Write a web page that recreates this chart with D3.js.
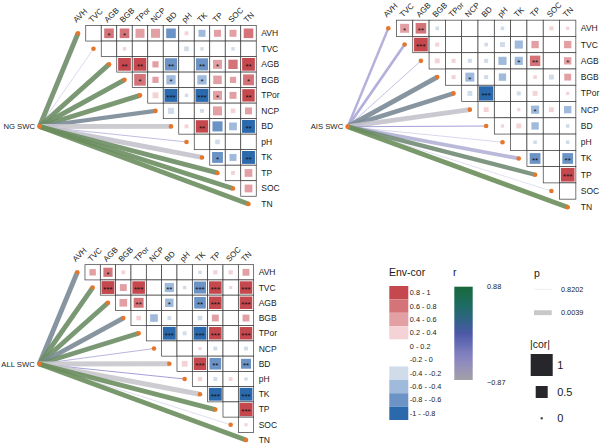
<!DOCTYPE html>
<html><head><meta charset="utf-8">
<script src="https://cdn.jsdelivr.net/npm/d3@7"></script>
<style>
body{margin:0;background:#fff}
svg{display:block}
text{font-family:"Liberation Sans",Arial,Helvetica,sans-serif;fill:#1a1a1a}
</style>
</head><body>
<svg id="c" width="600" height="444"></svg>
<script>
// ---------- data ----------
const vars = ["AVH","TVC","AGB","BGB","TPor","NCP","BD","pH","TK","TP","SOC","TN"];

// upper-triangle correlations: row i holds columns i+1..11
const ngCor = [
  [0.05, 0.62, 0.62, 0.58, 0.58, -0.62, 0.25, -0.45, 0.45, 0.45, 0.62],
  [0.1, 0.22, 0.05, 0.1, -0.1, -0.3, -0.22, 0.1, -0.22, 0.05],
  [0.82, 0.82, 0.4, -0.79, 0.05, -0.78, 0.58, 0.6, 0.82],
  [0.75, 0.4, -0.6, 0.05, -0.6, 0.55, 0.4, 0.7],
  [0.38, -0.84, -0.22, -0.84, 0.58, 0.45, 0.8],
  [-0.4, 0.05, -0.25, 0.58, 0.3, 0.45],
  [0.25, 0.8, -0.65, -0.5, -0.83],
  [0.05, -0.3, 0.05, 0.05],
  [-0.7, -0.45, -0.83],
  [0.25, 0.5],
  [0.5]
];
const ngSig = [
  [0,1,1,0,0,0,0,0,0,0,0],
  [0,0,0,0,0,0,0,0,0,0],
  [2,2,0,2,0,2,1,0,2],
  [1,0,1,0,1,0,0,1],
  [0,3,0,3,1,0,2],
  [0,0,0,0,0,0],
  [0,2,0,0,2],
  [0,0,0,0],
  [1,0,2],
  [0,0],
  [0]
];
const aisCor = [
  [0.55, 0.65, -0.22, 0.05, 0.05, 0.05, -0.22, 0.05, 0.05, 0.25, 0.2],
  [0.84, 0.25, 0.05, 0.05, -0.22, -0.3, -0.5, 0.45, 0.05, 0.45],
  [0.3, 0.25, -0.25, -0.25, -0.5, -0.5, 0.64, 0.05, 0.45],
  [0.25, -0.55, -0.25, -0.45, 0.05, 0.22, -0.3, 0.42],
  [-0.3, -0.88, 0.05, -0.25, 0.3, 0.05, 0.2],
  [0.3, 0.05, 0.2, -0.5, 0.3, -0.45],
  [0.2, 0.3, -0.45, 0.05, -0.22],
  [0.05, -0.22, 0.05, -0.22],
  [-0.66, 0.05, -0.66],
  [0.05, 0.84],
  [0.05]
];
const aisSig = [
  [1,2,0,0,0,0,0,0,0,0,0],
  [3,0,0,0,0,0,0,0,0,0],
  [0,0,0,0,0,1,2,0,1],
  [0,1,0,0,0,0,0,0],
  [0,3,0,0,0,0,0],
  [0,0,0,1,0,0],
  [0,0,0,0,0],
  [0,0,0,0],
  [2,0,2],
  [0,3],
  [0]
];
const allCor = [
  [0.42, 0.6, 0.25, 0.05, 0.05, 0.05, 0.05, -0.22, 0.28, 0.28, 0.45],
  [0.84, 0.45, 0.82, -0.2, -0.6, -0.22, -0.79, 0.82, 0.2, 0.82],
  [0.5, 0.65, -0.2, -0.55, -0.2, -0.76, 0.82, 0.05, 0.82],
  [0.3, -0.5, -0.25, -0.2, -0.3, 0.45, 0.05, 0.45],
  [0.05, -0.84, -0.25, -0.84, 0.82, 0.05, 0.82],
  [0.05, 0.05, 0.2, -0.25, 0.05, -0.25],
  [0.38, 0.82, -0.76, 0.05, -0.65],
  [0.28, -0.25, 0.25, -0.22],
  [-0.84, 0.05, -0.84],
  [0.05, 0.86],
  [0.2]
];
const allSig = [
  [0,1,0,0,0,0,0,0,0,0,0],
  [3,0,3,0,2,0,3,3,0,3],
  [0,2,0,1,0,2,3,0,3],
  [0,0,0,0,0,0,0,0],
  [0,3,0,3,3,0,3],
  [0,0,0,0,0,0],
  [0,3,2,0,2],
  [0,0,0,0],
  [3,0,3],
  [0,3],
  [0]
];

// SWC links (Mantel-like): r and p per variable
const ngLinkR  = [0.78, -0.3, 0.8, 0.8, 0.82, 0.45, -0.85, -0.2, -0.8, 0.82, 0.84, 0.86];
const ngLinkP  = [0.004, 0.8, 0.004, 0.004, 0.004, 0.15, 0.004, 0.75, 0.01, 0.004, 0.004, 0.004];
const aisLinkR = [-0.4, -0.4, -0.3, 0.45, 0.45, -0.8, -0.1, -0.3, -0.55, 0.7, -0.2, 0.88];
const aisLinkP = [0.45, 0.4, 0.75, 0.02, 0.05, 0.01, 0.7, 0.8, 0.2, 0.1, 0.82, 0.004];
const allLinkR = [0.45, 0.8, 0.8, 0.45, 0.8, 0.0, -0.85, -0.1, -0.85, 0.85, 0.0, 0.87];
const allLinkP = [0.01, 0.004, 0.004, 0.02, 0.004, 0.75, 0.004, 0.7, 0.004, 0.004, 0.82, 0.004];

// legend content
const binLabels = ["0.8 - 1","0.6 - 0.8","0.4 - 0.6","0.2 - 0.4","0 - 0.2","-0.2 - 0","-0.4 - -0.2","-0.6 - -0.4","-0.8 - -0.6","-1 - -0.8"];
const binColors = ["#c4484e","#d47479","#e3a0a4","#f4d2d5","#ffffff","#ffffff","#d0dcea","#9fbadb","#6b93c6","#2b69ad"];
const rRange = [-0.87, 0.88];
const pBreaks = [0.8202, 0.0039];
const corBreaks = [1, 0.5, 0];

// ---------- scales ----------
const svg = d3.select("#c");
const fillScale = d3.scaleThreshold()
  .domain([-0.8,-0.6,-0.4,-0.2,0,0.2,0.4,0.6,0.8])
  .range(binColors.slice().reverse());
const linkColor = d3.scaleLinear()
  .domain([-0.87, -0.45, 0, 0.45, 0.88])
  .range(["#c8c8cb","#aeaad8","#9490cf","#7a8997","#6a8e5b"]);
const barColor = d3.scaleLinear()
  .domain([-0.87, -0.45, 0, 0.45, 0.88])
  .range(["#a3a0a8","#8a86c4","#4b59a8","#1f6b6b","#17693b"]);
const linkWidth = d3.scaleLinear().domain([0.0039, 0.8202]).range([4.9, 0.35]).clamp(true);

const panels = [
  {name:"NG SWC", cor:ngCor, sig:ngSig, lr:ngLinkR, lp:ngLinkP, xr:[78,248.5], yr:[33.3,204], o:[39.5,126.5]},
  {name:"AIS SWC", cor:aisCor, sig:aisSig, lr:aisLinkR, lp:aisLinkP, xr:[388.3,567.7], yr:[28.3,207.3], o:[347.7,126.7]},
  {name:"ALL SWC", cor:allCor, sig:allSig, lr:allLinkR, lp:allLinkP, xr:[77.3,246], yr:[272.3,440], o:[39.3,364]}
];

panels.forEach(P => {
  const x = d3.scalePoint().domain(vars).range(P.xr);
  const y = d3.scalePoint().domain(vars).range(P.yr);
  const w = x.step(), h = y.step();
  const g = svg.append("g");
  const top = P.yr[0] - h/2;

  // cells
  const cells = [];
  P.cor.forEach((row,i) => row.forEach((r,k) => {
    cells.push({row:vars[i], col:vars[i+1+k], r:r, s:P.sig[i][k]});
  }));
  const cg = g.selectAll("g.cell").data(cells).join("g").attr("class","cell")
    .attr("transform", d => `translate(${x(d.col)},${y(d.row)})`);
  cg.append("rect").attr("x",-w/2).attr("y",-h/2).attr("width",w).attr("height",h)
    .attr("fill","#fff").attr("stroke","#3a3a3a").attr("stroke-width",0.7);
  cg.append("rect")
    .attr("x", d => -Math.min(w-1.5, Math.abs(d.r)*w)/2)
    .attr("y", d => -Math.min(h-1.5, Math.abs(d.r)*h)/2)
    .attr("width", d => Math.min(w-1.5, Math.abs(d.r)*w))
    .attr("height", d => Math.min(h-1.5, Math.abs(d.r)*h))
    .attr("fill", d => fillScale(d.r));
  cg.filter(d => d.s>0).append("text")
    .attr("text-anchor","middle").attr("y",4.4).attr("font-size",8)
    .style("fill","#111")
    .text(d => "*".repeat(d.s));

  // row labels
  g.selectAll("text.rl").data(vars).join("text").attr("class","rl")
    .attr("x", P.xr[1] + w/2 + 5).attr("y", d => y(d)).attr("dy","0.35em")
    .attr("font-size",8.5).text(d => d);
  // column labels
  g.selectAll("text.cl").data(vars).join("text").attr("class","cl")
    .attr("transform", d => `translate(${x(d)-1.5},${top-2.5}) rotate(-45)`)
    .attr("font-size",8).text(d => d);

  // links
  const links = vars.map((v,i) => ({v:v, r:P.lr[i], p:P.lp[i]}));
  g.selectAll("line.lk").data(links).join("line").attr("class","lk")
    .attr("x1",P.o[0]).attr("y1",P.o[1])
    .attr("x2", d => x(d.v)).attr("y2", d => y(d.v))
    .attr("stroke", d => linkColor(d.r)).attr("stroke-opacity",0.9)
    .attr("stroke-width", d => linkWidth(d.p));
  g.selectAll("circle.ep").data(vars).join("circle").attr("class","ep")
    .attr("cx", d => x(d)).attr("cy", d => y(d)).attr("r",2.3).attr("fill","#e5772c");
  g.append("circle").attr("cx",P.o[0]).attr("cy",P.o[1]).attr("r",2.4).attr("fill","#e5772c");
  g.append("text").attr("x",P.o[0]-4.5).attr("y",P.o[1]).attr("dy","0.35em")
    .attr("text-anchor","end").attr("font-size",7.7).text(P.name);
});

// ---------- legends ----------
const L = svg.append("g");
L.append("text").attr("x",389).attr("y",275.5).attr("font-size",10.5).text("Env-cor");
const sw = L.selectAll("g.sw").data(binLabels).join("g").attr("class","sw")
  .attr("transform",(d,i)=>`translate(389.3,${286+i*13.4})`);
sw.append("rect").attr("width",19).attr("height",13.4).attr("fill",(d,i)=>binColors[i]);
sw.append("text").attr("x",20.5).attr("y",6.7).attr("dy","0.35em").attr("font-size",7.3).text(d=>d);

L.append("text").attr("x",453).attr("y",275.5).attr("font-size",10.5).text("r");
const defs = svg.append("defs");
const grad = defs.append("linearGradient").attr("id","rg").attr("x1",0).attr("x2",0).attr("y1",0).attr("y2",1);
d3.range(0,1.0001,0.1).forEach(t => {
  const v = rRange[0] + (rRange[1]-rRange[0])*(1-t);
  grad.append("stop").attr("offset",t).attr("stop-color",barColor(v));
});
L.append("rect").attr("x",454.3).attr("y",286.7).attr("width",18.4).attr("height",93.3).attr("fill","url(#rg)");
const barPos = d3.scaleLinear().domain(rRange).range([380,286.7]);
L.selectAll("text.rb").data(rRange).join("text").attr("class","rb")
  .attr("x",487).attr("y",d=>barPos(d)+(d<0?2:0)).attr("dy","0.35em").attr("font-size",7.3)
  .text(d=>d3.format(".2f")(d));

L.append("text").attr("x",534).attr("y",277).attr("font-size",10.5).text("p");
const pl = L.selectAll("g.pl").data(pBreaks).join("g").attr("class","pl")
  .attr("transform",(d,i)=>`translate(534,${289.3+i*23.4})`);
pl.append("line").attr("x1",0).attr("x2",17.7).attr("stroke","#c8c8c8").attr("stroke-width",d=>linkWidth(d));
pl.append("text").attr("x",27).attr("dy","0.35em").attr("font-size",7.3).text(d=>d);

L.append("text").attr("x",530).attr("y",348).attr("font-size",10.5).text("|cor|");
const cs = d3.scaleLinear().domain([0,1]).range([2,22]);
const cy = [365, 392, 418.3];
const cl = L.selectAll("g.cs").data(corBreaks).join("g").attr("class","cs")
  .attr("transform",(d,i)=>`translate(541.7,${cy[i]})`);
cl.append("rect").attr("x",d=>-cs(d)/2).attr("y",d=>-cs(d)/2).attr("width",d=>cs(d)).attr("height",d=>cs(d)).attr("fill","#26262b");
cl.append("text").attr("x",15.5).attr("dy","0.38em").attr("font-size",11).text(d=>d);
</script>
</body></html>
